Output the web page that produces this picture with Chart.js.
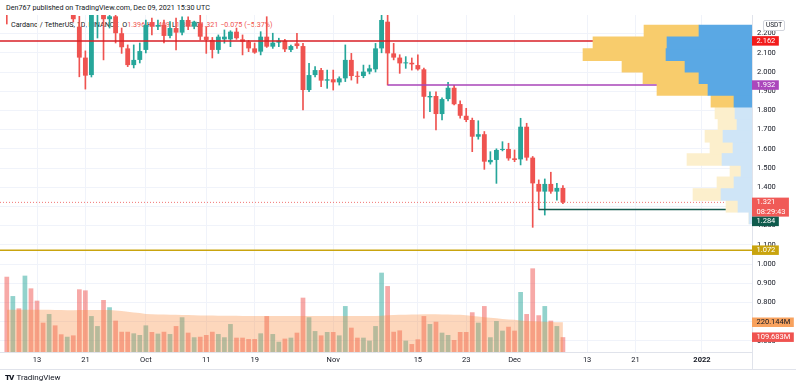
<!DOCTYPE html>
<html lang="en">
<head>
<meta charset="UTF-8">
<meta name="viewport" content="width=device-width, initial-scale=1.0">
<title>Cardano / TetherUS, 1D</title>
<style>
  body { margin: 0; background: #fff; font-family: Roboto, 'Liberation Sans', Arial, sans-serif; color: #131722; }
  #wrap { position: relative; width: 800px; height: 390px; overflow: hidden; }
  #wrap canvas { position: absolute; left: 0; top: 0; }
  #main { z-index: 2; }
  #vp { z-index: 3; }
  .txt { position: absolute; white-space: nowrap; font-size: 7.5px; line-height: 10px; }
  #head { left: 6px; top: 3px; z-index: 1; font-size: 7.2px; }
  #legend { left: 11px; top: 20px; z-index: 1; font-size: 7.2px; }
  #legend .r { color: #ef5350; }
  #unit { left: 763px; top: 20px; width: 20px; height: 9px; border: 1px solid #d1d4dc; border-radius: 2px;
          text-align: center; line-height: 9px; font-size: 6.5px; z-index: 4; }
  #logo { left: 5px; top: 373px; font-size: 8px; z-index: 4; }
  #logo b { font-weight: 900; letter-spacing: -1px; margin-right: 3px; }
  .hl { position: absolute; height: 1px; background: #e0e3eb; z-index: 4; }
  .vl { position: absolute; width: 1px; background: #e0e3eb; z-index: 4; }
</style>
</head>
<body>
<div id="wrap">
  <div class="txt" id="head">Den767 published on TradingView.com, Dec 09, 2021 15:30 UTC</div>
  <div class="txt" id="legend">Cardano / TetherUS, 1D, BINANCE&nbsp; O<span class="r">1.396</span> H<span class="r">1.409</span> L<span class="r">1.317</span> C<span class="r">1.321 &minus;0.075 (&minus;5.37%)</span></div>
  <canvas id="main" width="800" height="390"></canvas>
  <canvas id="vp" width="752" height="390"></canvas>
  <div class="txt" id="unit">USDT</div>
  <div class="hl" style="left:0; top:369px; width:796px;"></div>
  <div class="vl" style="left:752px; top:352px; height:17px;"></div>
  <div class="txt" id="logo"><b>TV</b>TradingView</div>
</div>
<script src="https://cdn.jsdelivr.net/npm/chart.js"></script>
<script>
// daily candles, Sep 8 -> Dec 9 2021 (index 0 = Sep 8)
const opens = [2.52, 2.46, 2.52, 2.36, 2.56, 2.48, 2.40, 2.37, 2.46, 2.40, 2.37, 2.38, 2.236, 2.075, 1.984, 2.30, 2.34, 2.275, 2.29, 2.202,
  2.123, 2.036, 2.063, 2.115, 2.260, 2.236, 2.245, 2.188, 2.229, 2.205, 2.271, 2.236, 2.254, 2.184, 2.167, 2.115, 2.170, 2.170, 2.210, 2.170,
  2.158, 2.123, 2.106, 2.184, 2.132, 2.153, 2.163, 2.115, 2.149, 2.135, 1.906, 1.984, 2.010, 1.955, 1.962, 1.946, 1.967, 2.063, 1.979, 1.979,
  2.002, 2.014, 2.123, 2.262, 2.097, 2.075, 2.045, 2.048, 2.036, 2.014, 1.868, 1.875, 1.781, 1.859, 1.918, 1.833, 1.772, 1.750, 1.663, 1.676,
  1.530, 1.542, 1.594, 1.599, 1.550, 1.545, 1.715, 1.554, 1.417, 1.377, 1.417, 1.377, 1.396];
const highs = [2.58, 2.56, 2.58, 2.60, 2.62, 2.52, 2.46, 2.49, 2.50, 2.42, 2.43, 2.41, 2.29, 2.11, 2.33, 2.36, 2.35, 2.31, 2.30, 2.229,
  2.141, 2.141, 2.151, 2.271, 2.281, 2.270, 2.271, 2.262, 2.281, 2.287, 2.287, 2.265, 2.297, 2.236, 2.180, 2.193, 2.219, 2.215, 2.229, 2.193,
  2.165, 2.151, 2.210, 2.288, 2.202, 2.176, 2.170, 2.140, 2.202, 2.149, 2.045, 2.028, 2.019, 2.010, 2.010, 1.975, 2.141, 2.097, 2.002, 2.036,
  2.036, 2.149, 2.320, 2.300, 2.149, 2.090, 2.080, 2.073, 2.089, 2.020, 1.897, 1.897, 1.865, 1.946, 1.930, 1.850, 1.811, 1.760, 1.746, 1.690,
  1.585, 1.600, 1.637, 1.629, 1.594, 1.759, 1.733, 1.560, 1.438, 1.443, 1.478, 1.420, 1.409];
const lows = [2.25, 2.40, 2.33, 2.35, 2.45, 2.32, 2.33, 2.35, 2.38, 2.34, 2.33, 2.26, 1.975, 1.911, 1.974, 2.177, 2.063, 2.229, 2.151, 2.097,
  2.028, 2.021, 2.047, 2.099, 2.193, 2.220, 2.151, 2.177, 2.115, 2.193, 2.220, 2.225, 2.167, 2.097, 2.073, 2.097, 2.150, 2.132, 2.170, 2.089,
  2.106, 2.097, 2.089, 2.128, 2.123, 2.132, 2.106, 2.106, 2.123, 1.802, 1.897, 1.975, 1.923, 1.915, 1.906, 1.932, 1.950, 1.958, 1.941, 1.970,
  1.990, 2.000, 2.100, 1.932, 2.063, 1.993, 2.019, 2.010, 2.010, 1.759, 1.793, 1.698, 1.750, 1.850, 1.828, 1.759, 1.741, 1.585, 1.650, 1.493,
  1.520, 1.420, 1.589, 1.540, 1.533, 1.516, 1.540, 1.191, 1.284, 1.255, 1.368, 1.333, 1.314];
const closes = [2.46, 2.52, 2.36, 2.56, 2.48, 2.38, 2.37, 2.46, 2.40, 2.37, 2.40, 2.275, 2.075, 1.981, 2.30, 2.34, 2.275, 2.29, 2.202, 2.129,
  2.036, 2.063, 2.109, 2.245, 2.236, 2.245, 2.188, 2.229, 2.205, 2.271, 2.236, 2.262, 2.184, 2.167, 2.115, 2.184, 2.184, 2.210, 2.176, 2.158,
  2.123, 2.101, 2.184, 2.132, 2.153, 2.163, 2.118, 2.135, 2.135, 1.906, 1.984, 2.010, 1.955, 1.962, 1.946, 1.967, 2.063, 1.979, 1.975, 2.002,
  2.019, 2.123, 2.271, 2.097, 2.075, 2.045, 2.050, 2.040, 2.014, 1.871, 1.875, 1.781, 1.859, 1.918, 1.832, 1.772, 1.750, 1.663, 1.676, 1.533,
  1.542, 1.594, 1.599, 1.550, 1.542, 1.715, 1.554, 1.420, 1.377, 1.417, 1.377, 1.396, 1.321];
// volume in millions of ADA
const volumes = [557, 414, 323, 565, 471, 380, 217, 281, 197, 131, 113, 123, 464, 456, 266, 192, 385, 331, 232, 150,
  150, 138, 126, 197, 148, 136, 150, 133, 192, 257, 143, 109, 113, 126, 150, 133, 109, 207, 106, 106,
  96, 96, 138, 266, 133, 76, 99, 106, 143, 402, 257, 155, 123, 148, 148, 123, 340, 180, 106, 106,
  84, 192, 587, 488, 150, 160, 84, 59, 94, 266, 207, 224, 143, 126, 89, 148, 148, 294, 217, 340,
  109, 229, 158, 187, 158, 444, 281, 619, 272, 340, 232, 192, 109.683];
const volumeMA = [312, 312, 312, 313, 313, 313, 312, 312, 311, 310, 309, 309, 310, 311, 311, 310, 310, 310, 308, 303,
  298, 293, 288, 282, 280, 278, 277, 276, 275, 274, 273, 272, 271, 270, 270, 269, 269, 268, 268, 267,
  267, 266, 266, 266, 266, 266, 266, 266, 266, 267, 267, 267, 267, 267, 267, 266, 266, 266, 266, 266,
  266, 267, 268, 272, 274, 275, 276, 277, 278, 279, 279, 279, 278, 277, 276, 275, 272, 266, 262, 258,
  254, 249, 245, 241, 238, 233, 230, 228, 226, 224, 222, 221, 220.144];

// time axis
const tickIdx = [5, 13, 23, 33, 41, 54, 68, 76, 84, 96, 104, 115];
const tickLabels = ['13', '21', 'Oct', '11', '19', 'Nov', '15', '23', 'Dec', '13', '21', '2022'];
const priceTicks = [0.6, 0.7, 0.8, 0.9, 1.0, 1.1, 1.2, 1.3, 1.4, 1.5, 1.6, 1.7, 1.8, 1.9, 2.0, 2.1, 2.2];

// drawn levels (price, first candle index)
const levelPrices = [2.162, 1.932, 1.284, 1.072];
const levelFrom = [-1.2, 63, 88, -1.2];
const lastPrice = 1.321;
const countdown = '08:29:43';

// visible range volume profile rows (price at row centre, up / down volume)
const vpPrice = [1.222, 1.289, 1.356, 1.423, 1.490, 1.557, 1.624, 1.690, 1.757, 1.824, 1.891, 1.958, 2.025, 2.092, 2.158, 2.225, 2.292];
const vpUp = [3, 14, 31, 18, 11, 30, 19, 29, 15, 17, 18, 44, 53, 67, 86, 85, 53];
const vpDown = [0, 12, 28, 17, 11, 35, 23, 18, 19, 20, 23, 51, 56, 63, 83, 74, 55];
const vpValueArea = [0, 0, 0, 0, 0, 0, 0, 0, 0, 0, 1, 1, 1, 1, 1, 1, 1];

const X_MIN = -1.125, X_MAX = 123.28;
const P_MIN = 0.541667, P_MAX = 2.296875;
const V_MAX = 2494;

const UP = '#26a69a', DOWN = '#ef5350';
const FONT = 'Roboto, "Liberation Sans", Arial, sans-serif';
Chart.defaults.font.family = FONT;
Chart.defaults.font.size = 7.5;
Chart.defaults.color = '#131722';

const idx = closes.map((c, i) => i);
const isUp = idx.map(i => closes[i] >= opens[i]);

function levelLine(p, from, color, dash) {
  return {
    type: 'line', data: [{ x: from, y: p }, { x: X_MAX, y: p }],
    borderColor: color, borderWidth: dash ? 1 : 1.5, borderDash: dash || [],
    pointRadius: 0, clip: 0
  };
}

// price tags on the right axis
const tagPlugin = {
  id: 'tags',
  afterDraw(chart) {
    const ctx = chart.ctx, ys = chart.scales.y, yv = chart.scales.yv;
    const x0 = chart.chartArea.right;
    const tags = [
      { py: ys.getPixelForValue(levelPrices[0]), lines: [levelPrices[0].toFixed(3)], bg: '#f21c1c', fg: '#fff' },
      { py: ys.getPixelForValue(levelPrices[1]), lines: [levelPrices[1].toFixed(3)], bg: '#ab47bc', fg: '#fff' },
      { py: ys.getPixelForValue(lastPrice), lines: [lastPrice.toFixed(3), countdown], bg: '#f05a57', fg: '#fff' },
      { py: ys.getPixelForValue(levelPrices[2]), lines: [levelPrices[2].toFixed(3)], bg: '#0e5a4c', fg: '#fff' },
      { py: ys.getPixelForValue(levelPrices[3]), lines: [levelPrices[3].toFixed(3)], bg: '#c9a40e', fg: '#fff' },
      { py: yv.getPixelForValue(volumeMA[volumeMA.length - 1]), lines: [volumeMA[volumeMA.length - 1].toFixed(3) + 'M'], bg: '#f8a25e', fg: '#131722' },
      { py: yv.getPixelForValue(volumes[volumes.length - 1]), lines: [volumes[volumes.length - 1].toFixed(3) + 'M'], bg: '#ef5350', fg: '#fff' }
    ];
    ctx.save();
    ctx.font = '7.5px ' + FONT;
    ctx.textBaseline = 'middle';
    let lastBottom = -1e9;
    tags.forEach(t => {
      const w = Math.max(...t.lines.map(s => ctx.measureText(s).width)) + 8;
      const h = 9.5 * t.lines.length;
      const top = Math.max(t.py - 4.75, lastBottom);
      ctx.fillStyle = t.bg;
      ctx.fillRect(x0, top, w, h);
      ctx.fillStyle = t.fg;
      t.lines.forEach((s, k) => ctx.fillText(s, x0 + 4.5, top + 4.9 + k * 9.5));
      lastBottom = top + h;
    });
    ctx.restore();
  }
};

new Chart(document.getElementById('main'), {
  type: 'bar',
  data: {
    datasets: [
      levelLine(lastPrice, X_MIN, 'rgba(239,83,80,0.8)', [1, 2]),
      levelLine(levelPrices[0], levelFrom[0], '#d81f26'),
      levelLine(levelPrices[1], levelFrom[1], '#a845b8'),
      levelLine(levelPrices[2], levelFrom[2], '#14594d'),
      levelLine(levelPrices[3], levelFrom[3], '#c9a40e'),
      {
        label: 'body', data: idx.map(i => ({ x: i, y: [opens[i], closes[i]] })),
        backgroundColor: idx.map(i => isUp[i] ? UP : DOWN),
        barPercentage: 0.8, categoryPercentage: 1, minBarLength: 1, clip: 0
      },
      {
        label: 'wick', data: idx.map(i => ({ x: i, y: [lows[i], highs[i]] })),
        backgroundColor: idx.map(i => isUp[i] ? UP : DOWN),
        barThickness: 1, clip: 0
      },
      {
        type: 'line', label: 'Volume MA', yAxisID: 'yv',
        data: idx.map(i => ({ x: i, y: volumeMA[i] })),
        borderWidth: 0, pointRadius: 0, fill: 'origin',
        backgroundColor: 'rgba(250,145,70,0.36)', clip: 0
      },
      {
        label: 'Volume', yAxisID: 'yv', data: idx.map(i => ({ x: i, y: volumes[i] })),
        backgroundColor: idx.map(i => isUp[i] ? 'rgba(38,166,154,0.5)' : 'rgba(239,83,80,0.5)'),
        barPercentage: 0.78, categoryPercentage: 1, clip: 0
      }
    ]
  },
  options: {
    responsive: false,
    animation: false,
    events: [],
    layout: { padding: { top: 15, left: 0, right: 0, bottom: 0 } },
    datasets: { bar: { grouped: false } },
    plugins: { legend: { display: false }, tooltip: { enabled: false } },
    scales: {
      x: {
        type: 'linear', min: X_MIN, max: X_MAX, offset: false,
        grid: { color: '#f0f3fa', drawTicks: false, offset: false },
        border: { color: '#e0e3eb' },
        ticks: {
          autoSkip: false, maxRotation: 0, padding: 4,
          callback: (v, i) => tickLabels[i],
          font: ctx => ({ size: 7.5, weight: tickLabels[ctx.index] === '2022' ? 'bold' : 'normal' })
        },
        afterBuildTicks: s => { s.ticks = tickIdx.map(v => ({ value: v })); },
        afterFit: s => { s.height = 38; }
      },
      y: {
        type: 'linear', position: 'right', min: P_MIN, max: P_MAX,
        grid: { color: '#f0f3fa', drawTicks: false },
        border: { color: '#e0e3eb' },
        ticks: { padding: 5, callback: v => Number(v).toFixed(3) },
        afterBuildTicks: s => { s.ticks = priceTicks.map(v => ({ value: v })); },
        afterFit: s => { s.width = 48; }
      },
      yv: { type: 'linear', display: false, min: 0, max: V_MAX }
    }
  },
  plugins: [tagPlugin]
});

// volume profile (visible range), drawn over the price pane
new Chart(document.getElementById('vp'), {
  type: 'bar',
  data: {
    datasets: [
      {
        data: vpPrice.map((p, i) => ({ y: p, x: [0, vpUp[i]] })),
        backgroundColor: vpValueArea.map(a => a ? '#5aa8e4' : '#cfe5f7'),
        barThickness: 12, grouped: false, clip: 0
      },
      {
        data: vpPrice.map((p, i) => ({ y: p, x: [vpUp[i], vpUp[i] + vpDown[i]] })),
        backgroundColor: vpValueArea.map(a => a ? '#f8cc6c' : '#fcefcc'),
        barThickness: 12, grouped: false, clip: 0
      }
    ]
  },
  options: {
    indexAxis: 'y',
    responsive: false,
    animation: false,
    events: [],
    layout: { padding: { top: 15, bottom: 38, left: 0, right: 0 } },
    plugins: { legend: { display: false }, tooltip: { enabled: false } },
    scales: {
      x: { type: 'linear', min: 0, max: 752, reverse: true, display: false },
      y: { type: 'linear', min: P_MIN, max: P_MAX, display: false }
    }
  }
});
</script>
</body>
</html>
